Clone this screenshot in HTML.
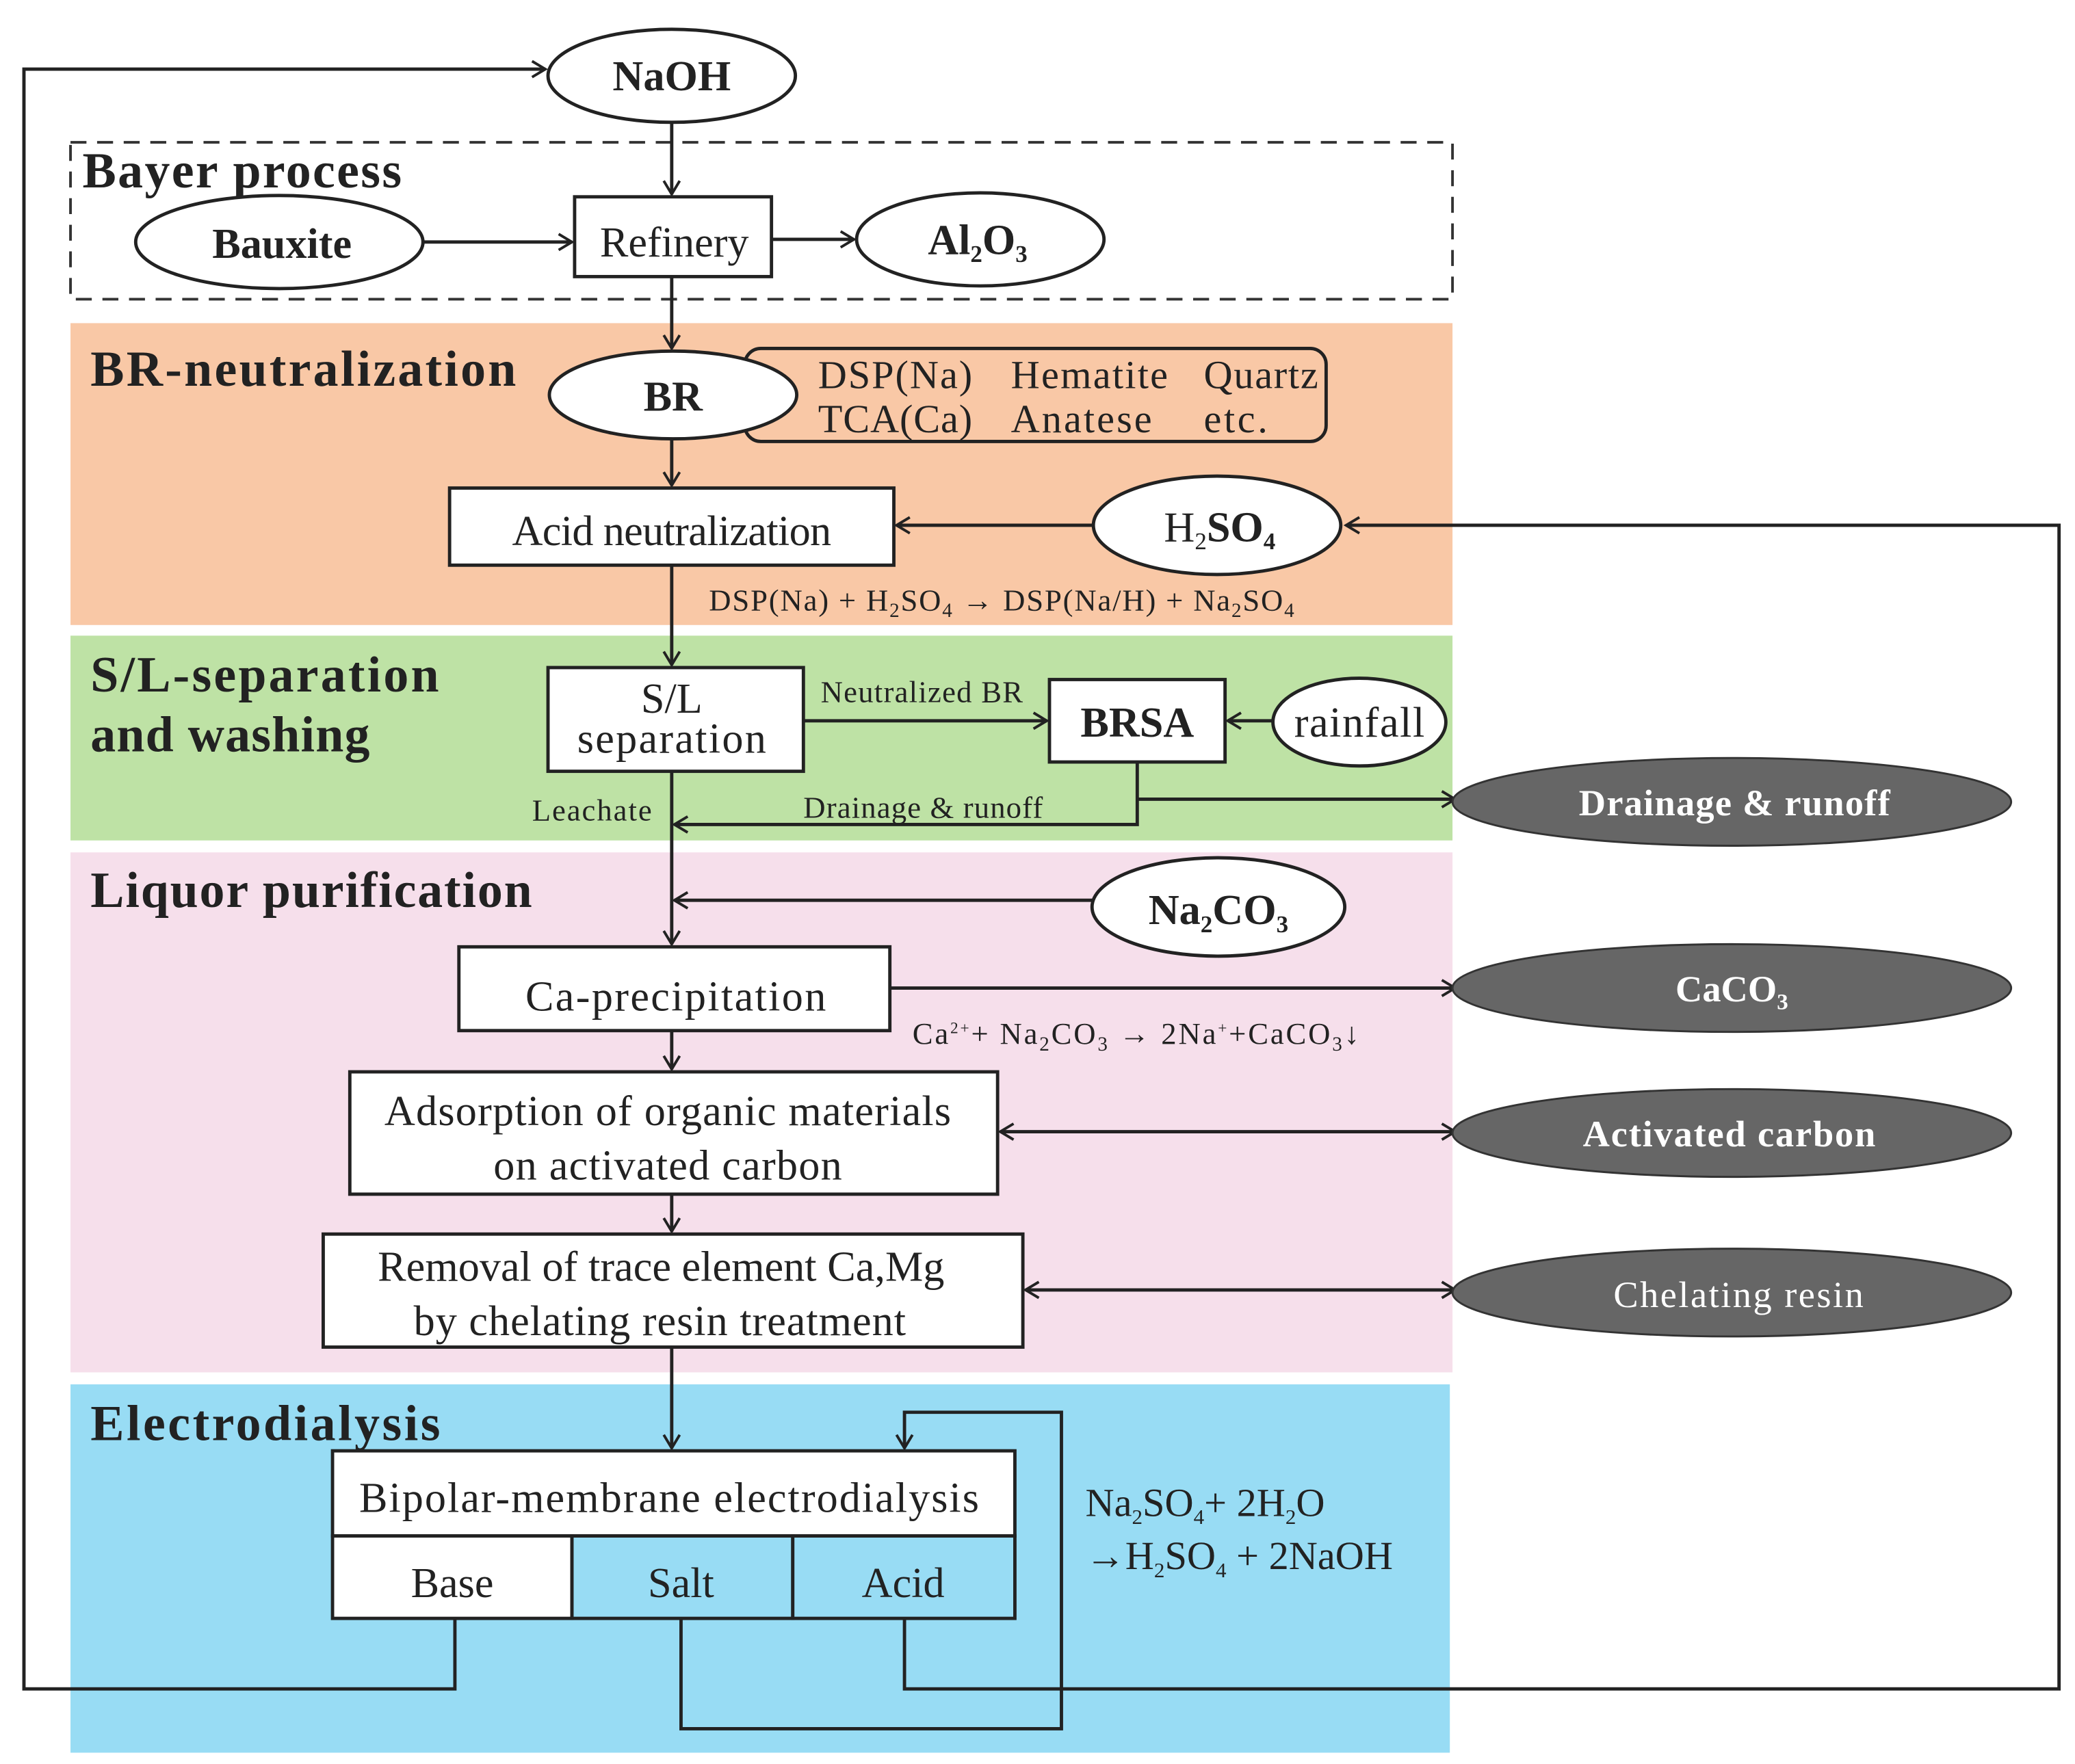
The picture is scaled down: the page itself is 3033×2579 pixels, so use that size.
<!DOCTYPE html>
<html><head><meta charset="utf-8"><style>html,body{margin:0;padding:0;background:#fff}svg{display:block}text{font-family:"Liberation Serif",serif;fill:#222}</style></head><body>
<svg width="3033" height="2579" viewBox="0 0 1560 1326.5" preserveAspectRatio="none" xmlns="http://www.w3.org/2000/svg">
<defs><marker id="a" markerWidth="14" markerHeight="14" refX="12" refY="7" orient="auto-start-reverse" markerUnits="userSpaceOnUse"><path d="M2,1 L12,7 L2,13" fill="none" stroke="#222" stroke-width="2"/></marker></defs>
<rect x="53" y="243" width="1039" height="227" fill="#f9c8a6"/>
<rect x="53" y="478" width="1039" height="154" fill="#bee2a5"/>
<rect x="53" y="641" width="1039" height="391" fill="#f6dfeb"/>
<rect x="53" y="1041" width="1037" height="277" fill="#98dcf4"/>
<rect x="53" y="107" width="1039" height="118" fill="none" stroke="#333" stroke-width="2" stroke-dasharray="12,8"/>
<g stroke="#222" stroke-width="2.5" fill="none">
<polyline points="342,1217 342,1270 18,1270 18,52 410,52" marker-end="url(#a)"/>
<polyline points="680,1217 680,1270 1548,1270 1548,395 1012,395" marker-end="url(#a)"/>
<polyline points="512,1217 512,1300 798,1300 798,1062 680,1062 680,1089" marker-end="url(#a)"/>
<line x1="505" y1="92" x2="505" y2="146" marker-end="url(#a)"/>
<line x1="318" y1="182" x2="430" y2="182" marker-end="url(#a)"/>
<line x1="580" y1="180" x2="642" y2="180" marker-end="url(#a)"/>
<line x1="505" y1="208" x2="505" y2="262" marker-end="url(#a)"/>
<line x1="505" y1="330" x2="505" y2="365" marker-end="url(#a)"/>
<line x1="822" y1="395" x2="674" y2="395" marker-end="url(#a)"/>
<line x1="505" y1="425" x2="505" y2="500" marker-end="url(#a)"/>
<line x1="604" y1="542" x2="787" y2="542" marker-end="url(#a)"/>
<line x1="957" y1="542" x2="923" y2="542" marker-end="url(#a)"/>
<polyline points="855,573 855,620 507,620" marker-end="url(#a)"/>
<line x1="855" y1="601" x2="1094" y2="601" marker-end="url(#a)"/>
<line x1="505" y1="580" x2="505" y2="710" marker-end="url(#a)"/>
<line x1="822" y1="677" x2="507" y2="677" marker-end="url(#a)"/>
<line x1="669" y1="743" x2="1094" y2="743" marker-end="url(#a)"/>
<line x1="505" y1="775" x2="505" y2="804" marker-end="url(#a)"/>
<line x1="752" y1="851" x2="1094" y2="851" marker-start="url(#a)" marker-end="url(#a)"/>
<line x1="505" y1="898" x2="505" y2="926" marker-end="url(#a)"/>
<line x1="771" y1="970" x2="1094" y2="970" marker-start="url(#a)" marker-end="url(#a)"/>
<line x1="505" y1="1013" x2="505" y2="1089" marker-end="url(#a)"/>
</g>
<g stroke="#222" stroke-width="2.5" fill="#fff">
<ellipse cx="505" cy="57" rx="93" ry="35"/>
<ellipse cx="210" cy="182" rx="108" ry="35"/>
<rect x="432" y="148" width="148" height="60"/>
<ellipse cx="737" cy="180" rx="93" ry="35"/>
<rect x="560" y="262" width="437" height="70" rx="12" fill="none"/>
<ellipse cx="506" cy="297" rx="93" ry="33"/>
<rect x="338" y="367" width="334" height="58"/>
<ellipse cx="915" cy="395" rx="93" ry="37"/>
<rect x="412" y="502" width="192" height="78"/>
<rect x="789" y="511" width="132" height="62"/>
<ellipse cx="1022" cy="543" rx="65" ry="33"/>
<ellipse cx="916" cy="682" rx="95" ry="37"/>
<rect x="345" y="712" width="324" height="63"/>
<rect x="263" y="806" width="487" height="92"/>
<rect x="243" y="928" width="526" height="85"/>
<rect x="250" y="1091" width="513" height="64"/>
<rect x="250" y="1155" width="180" height="62"/>
<rect x="430" y="1155" width="166" height="62" fill="#98dcf4"/>
<rect x="596" y="1155" width="167" height="62" fill="#98dcf4"/>
</g>
<g fill="#666" stroke="#333" stroke-width="1.5">
<ellipse cx="1302" cy="603" rx="210" ry="33"/>
<ellipse cx="1302" cy="743" rx="210" ry="33"/>
<ellipse cx="1302" cy="852" rx="210" ry="33"/>
<ellipse cx="1302" cy="972" rx="210" ry="33"/>
</g>
<g font-weight="bold" font-size="38">
<text x="62" y="141" textLength="240">Bayer process</text>
<text x="68" y="290" textLength="320">BR-neutralization</text>
<text x="68" y="520" textLength="262">S/L-separation</text>
<text x="68" y="565" textLength="210">and washing</text>
<text x="68" y="682" textLength="332">Liquor purification</text>
<text x="68" y="1083" textLength="263">Electrodialysis</text>
</g>
<g font-size="32" text-anchor="middle">
<text x="505" y="68" font-weight="bold">NaOH</text>
<text x="212" y="194" font-weight="bold">Bauxite</text>
<text x="507" y="193">Refinery</text>
<text x="735" y="191" font-weight="bold">Al<tspan font-size="18" dy="6">2</tspan><tspan dy="-6">O</tspan><tspan font-size="18" dy="6">3</tspan></text>
<text x="506" y="309" font-weight="bold">BR</text>
<text x="505" y="410" textLength="240">Acid neutralization</text>
<text x="917" y="407">H<tspan font-size="18" dy="6">2</tspan><tspan dy="-6" font-weight="bold">SO</tspan><tspan font-size="18" dy="6" font-weight="bold">4</tspan></text>
<text x="505" y="536">S/L</text>
<text x="505" y="566" textLength="142">separation</text>
<text x="855" y="554" font-weight="bold">BRSA</text>
<text x="1022" y="554" textLength="98">rainfall</text>
<text x="916" y="695" font-weight="bold">Na<tspan font-size="18" dy="6">2</tspan><tspan dy="-6">CO</tspan><tspan font-size="18" dy="6">3</tspan></text>
<text x="508" y="760" textLength="226">Ca-precipitation</text>
<text x="502" y="846" textLength="426">Adsorption  of organic materials</text>
<text x="502" y="887" textLength="262">on activated carbon</text>
<text x="497" y="963" textLength="426">Removal of trace element Ca,Mg</text>
<text x="496" y="1004" textLength="370">by chelating resin treatment</text>
<text x="503" y="1137" textLength="466">Bipolar-membrane electrodialysis</text>
<text x="340" y="1201">Base</text>
<text x="512" y="1201">Salt</text>
<text x="679" y="1201">Acid</text>
</g>
<g font-size="30">
<text x="615" y="292" textLength="116">DSP(Na)</text><text x="760" y="292" textLength="118">Hematite</text><text x="905" y="292" textLength="86">Quartz</text>
<text x="615" y="325" textLength="116">TCA(Ca)</text><text x="760" y="325" textLength="106">Anatese</text><text x="905" y="325" textLength="48">etc.</text>
<text x="816" y="1140">Na<tspan font-size="16" dy="6">2</tspan><tspan dy="-6">SO</tspan><tspan font-size="16" dy="6">4</tspan><tspan dy="-6">+ 2H</tspan><tspan font-size="16" dy="6">2</tspan><tspan dy="-6">O</tspan></text>
<text x="816" y="1180">→H<tspan font-size="16" dy="6">2</tspan><tspan dy="-6">SO</tspan><tspan font-size="16" dy="6">4</tspan><tspan dy="-6"> + 2NaOH</tspan></text>
</g>
<g font-size="23">
<text x="533" y="459" textLength="440">DSP(Na) + H<tspan font-size="15" dy="5">2</tspan><tspan dy="-5">SO</tspan><tspan font-size="15" dy="5">4</tspan><tspan dy="-5"> → DSP(Na/H) + Na</tspan><tspan font-size="15" dy="5">2</tspan><tspan dy="-5">SO</tspan><tspan font-size="15" dy="5">4</tspan></text>
<text x="617" y="528" textLength="152">Neutralized BR</text>
<text x="400" y="617" textLength="90">Leachate</text>
<text x="604" y="615" textLength="180">Drainage &amp; runoff</text>
<text x="686" y="785" textLength="336">Ca<tspan font-size="12" dy="-8">2+</tspan><tspan dy="8">+ Na</tspan><tspan font-size="15" dy="5">2</tspan><tspan dy="-5">CO</tspan><tspan font-size="15" dy="5">3</tspan><tspan dy="-5"> → 2Na</tspan><tspan font-size="12" dy="-8">+</tspan><tspan dy="8">+CaCO</tspan><tspan font-size="15" dy="5">3</tspan><tspan dy="-5">↓</tspan></text>
</g>
<g font-size="28" text-anchor="middle">
<text x="1304" y="613" font-weight="bold" style="fill:#fff" textLength="234">Drainage &amp; runoff</text>
<text x="1302" y="753" font-weight="bold" style="fill:#fff">CaCO<tspan font-size="17" dy="6">3</tspan></text>
<text x="1300" y="862" font-weight="bold" style="fill:#fff" textLength="220">Activated carbon</text>
<text x="1307" y="983" style="fill:#fff" textLength="188">Chelating resin</text>
</g>
</svg>
</body></html>
